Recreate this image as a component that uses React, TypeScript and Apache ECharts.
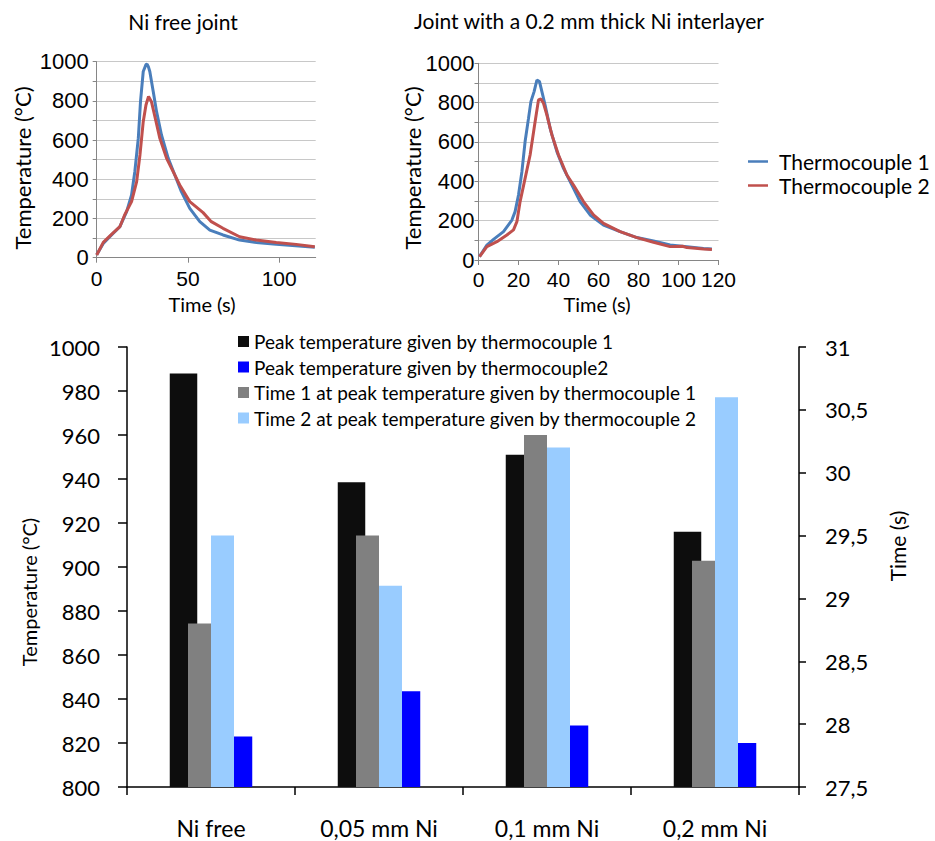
import React, { useEffect, useRef } from "react";
import * as echarts from "echarts";

// ---- Top-left: Ni free joint (time s, temperature °C)
const niFreeTC1: [number, number][] = [
  [0, 15], [3.6, 73], [8, 115], [12.7, 158], [16.4, 235], [19.1, 320], [20.9, 440], [22.8, 610],
  [24, 796], [25.5, 950], [27, 985], [27.6, 988], [28.3, 975], [29.1, 950], [31, 847], [32.8, 745],
  [35.5, 626], [39.2, 507], [42.8, 422], [46.4, 337], [51, 252], [56.5, 184], [62, 141],
  [69.2, 116], [78.3, 90], [87.4, 78], [98.4, 68], [109, 61], [119.5, 53],
];
const niFreeTC2: [number, number][] = [
  [0, 14], [3.6, 78], [8, 118], [12.7, 158], [15.3, 218], [19.1, 286], [21.9, 388], [23.7, 524],
  [25.5, 694], [27, 779], [28.4, 823], [30, 796], [31.9, 719], [34.6, 609], [38.3, 507],
  [41.9, 439], [45.5, 371], [51, 286], [58.3, 230], [62.8, 184], [69.2, 150], [78.3, 107],
  [87.4, 90], [98.4, 77], [109.3, 68], [119.5, 56],
];

// ---- Top-right: joint with a 0.2 mm Ni interlayer
const ni02TC1: [number, number][] = [
  [0.5, 17], [4.2, 76], [7.5, 105], [12.5, 144], [16.7, 203], [18.3, 246], [20, 330], [21.7, 449],
  [23.3, 602], [25, 720], [26.2, 805], [27.8, 856], [29.2, 915], [30.5, 907], [31.7, 856],
  [33.3, 788], [35.8, 669], [39.2, 551], [42.5, 466], [46.7, 381], [50.8, 297], [55.8, 229],
  [62.5, 178], [70.8, 144], [79.2, 114], [87.5, 97], [95.8, 76], [104.2, 68], [112.5, 59], [116.7, 56],
];
const ni02TC2: [number, number][] = [
  [0.5, 17], [4.2, 68], [9.2, 93], [14.2, 127], [17.5, 153], [19.2, 195], [20.8, 297], [23.3, 415],
  [25.8, 534], [28.3, 703], [30, 814], [31.2, 819], [32.5, 797], [34.2, 737], [36.7, 636],
  [40, 534], [44.2, 432], [47.5, 381], [52.5, 297], [57.5, 229], [62.5, 186], [70.8, 144],
  [79.2, 114], [87.5, 90], [95.8, 68], [102, 70], [104.2, 63], [112.5, 56], [116.7, 54],
];

// ---- Bottom: bar chart
const categories = ["Ni free", "0,05 mm Ni", "0,1 mm Ni", "0,2 mm Ni"];
const peakTC1 = [988, 938.5, 951, 916];
const peakTC2 = [823, 843.5, 828, 820];
const timeTC1 = [28.8, 29.5, 30.3, 29.3];
const timeTC2 = [29.5, 29.1, 30.2, 30.6];

const lineNames = ["Thermocouple 1", "Thermocouple 2"];
const barNames = [
  "Peak temperature given by thermocouple 1",
  "Peak temperature given by thermocouple2",
  "Time 1 at peak temperature given by thermocouple 1",
  "Time 2 at peak temperature given by thermocouple 2",
];

const BLUE_LINE = "#4a7ebb";
const RED_LINE = "#c0504d";
const AX_GRAY = "#868686";
const GRID_GRAY = "#c8c8c8";
const CAL = "Lato";
const ARIAL = "Liberation Sans";

function topX(gridIndex: number, interval: number, showMax: boolean, margin: number) {
  return {
    type: "value",
    gridIndex,
    min: 0,
    max: 120,
    interval,
    axisLine: { show: true, lineStyle: { color: AX_GRAY, width: 1 } },
    axisTick: { show: true, length: 5, lineStyle: { color: AX_GRAY } },
    axisLabel: {
      fontFamily: ARIAL,
      fontSize: 21,
      color: "#000",
      margin,
      showMaxLabel: showMax,
      formatter: (v: number) => (v % interval === 0 ? String(v) : ""),
    },
    splitLine: { show: false },
  };
}
function topY(gridIndex: number, margin: number) {
  return {
    type: "value",
    gridIndex,
    min: 0,
    max: 1000,
    interval: 100,
    axisLine: { show: true, lineStyle: { color: AX_GRAY, width: 1 } },
    axisTick: { show: true, length: 4, lineStyle: { color: AX_GRAY } },
    axisLabel: {
      fontFamily: ARIAL,
      fontSize: 22,
      color: "#000",
      margin,
      formatter: (v: number) => (v % 200 === 0 ? String(v) : ""),
    },
    splitLine: { show: true, lineStyle: { color: GRID_GRAY, width: 1 } },
  };
}

const txt = (x: number, y: number, text: string, fontSize: number, rot = 0) => ({
  type: "text",
  x,
  y,
  rotation: rot,
  style: { text, fontFamily: CAL, fontSize, fill: "#000", textAlign: "center", textVerticalAlign: "middle" },
});

export default function App() {
  const ref = useRef<HTMLDivElement>(null);
  useEffect(() => {
    if (!ref.current) return;
    const chart = echarts.init(ref.current, undefined, { renderer: "svg" });
    const option: any = {
      animation: false,
      backgroundColor: "#fff",
      textStyle: { fontFamily: CAL },
      grid: [
        { left: 96.7, top: 61.7, width: 219, height: 196 },
        { left: 478.5, top: 63.3, width: 240, height: 196.7 },
        { left: 127, top: 347, width: 672, height: 440 },
      ],
      xAxis: [
        topX(0, 50, false, 10),
        topX(1, 20, true, 9),
        {
          type: "category",
          gridIndex: 2,
          data: categories,
          axisLine: { show: true, lineStyle: { color: "#000", width: 1.5 } },
          axisTick: { show: true, length: 8, lineStyle: { color: "#000", width: 1.5 } },
          axisLabel: { fontFamily: CAL, fontSize: 23, color: "#000", margin: 29 },
        },
        { type: "category", gridIndex: 2, data: categories, show: false },
      ],
      yAxis: [
        topY(0, 8),
        topY(1, 4),
        {
          type: "value",
          gridIndex: 2,
          position: "left",
          min: 800,
          max: 1000,
          interval: 20,
          axisLine: { show: true, lineStyle: { color: "#000", width: 1.5 } },
          axisTick: { show: true, length: 9, lineStyle: { color: "#000", width: 1.5 } },
          axisLabel: { fontFamily: CAL, fontSize: 22, color: "#000", margin: 27, formatter: (v: number) => String(v) },
          splitLine: { show: false },
        },
        {
          type: "value",
          gridIndex: 2,
          position: "right",
          min: 27.5,
          max: 31,
          interval: 0.5,
          axisLine: { show: true, lineStyle: { color: "#000", width: 1.5 } },
          axisTick: { show: true, length: 7, lineStyle: { color: "#000", width: 1.5 } },
          axisLabel: {
            fontFamily: CAL,
            fontSize: 22,
            color: "#000",
            margin: 26,
            formatter: (v: number) => String(v).replace(".", ","),
          },
          splitLine: { show: false },
        },
      ],
      legend: [
        {
          data: lineNames,
          orient: "vertical",
          left: 743,
          top: 146,
          icon: "rect",
          itemWidth: 20,
          itemHeight: 2.5,
          itemGap: 3,
          textStyle: { fontFamily: CAL, fontSize: 21, color: "#000", padding: [0, 0, 0, 6] },
        },
        {
          data: barNames,
          orient: "vertical",
          left: 233,
          top: 327,
          icon: "rect",
          itemWidth: 11,
          itemHeight: 11,
          itemGap: 6.5,
          textStyle: { fontFamily: CAL, fontSize: 19, color: "#000" },
        },
      ],
      series: [
        { type: "line", name: lineNames[0], xAxisIndex: 0, yAxisIndex: 0, data: niFreeTC1, showSymbol: false, color: BLUE_LINE, lineStyle: { width: 3 } },
        { type: "line", name: lineNames[1], xAxisIndex: 0, yAxisIndex: 0, data: niFreeTC2, showSymbol: false, color: RED_LINE, lineStyle: { width: 3 } },
        { type: "line", name: lineNames[0], xAxisIndex: 1, yAxisIndex: 1, data: ni02TC1, showSymbol: false, color: BLUE_LINE, lineStyle: { width: 3 } },
        { type: "line", name: lineNames[1], xAxisIndex: 1, yAxisIndex: 1, data: ni02TC2, showSymbol: false, color: RED_LINE, lineStyle: { width: 3 } },
        { type: "bar", name: barNames[0], xAxisIndex: 2, yAxisIndex: 2, data: peakTC1, barWidth: 27.5, barGap: "100%", color: "#0d0d0d" },
        { type: "bar", name: barNames[1], xAxisIndex: 2, yAxisIndex: 2, data: peakTC2, barWidth: 27.5, barGap: "100%", color: "#0000ff" },
        { type: "bar", name: barNames[2], xAxisIndex: 3, yAxisIndex: 3, data: timeTC1, barWidth: 23, barGap: "0%", color: "#808080" },
        { type: "bar", name: barNames[3], xAxisIndex: 3, yAxisIndex: 3, data: timeTC2, barWidth: 23, barGap: "0%", color: "#99ccff" },
      ],
      graphic: [
        txt(183, 21, "Ni free joint", 21),
        txt(589, 20, "Joint with a 0.2 mm thick Ni interlayer", 21),
        txt(22, 168, "Temperature (°C)", 22, Math.PI / 2),
        txt(412, 168, "Temperature (°C)", 22, Math.PI / 2),
        txt(202, 304, "Time (s)", 20),
        txt(597, 304, "Time (s)", 20),
        txt(29, 592, "Temperature (°C)", 20, Math.PI / 2),
        txt(897, 546, "Time (s)", 21, Math.PI / 2),
      ],
    };
    chart.setOption(option);
    return () => chart.dispose();
  }, []);
  return (
    <div
      ref={ref}
      style={{ position: "absolute", left: 0, top: 0, width: 935, height: 841 }}
    />
  );
}
